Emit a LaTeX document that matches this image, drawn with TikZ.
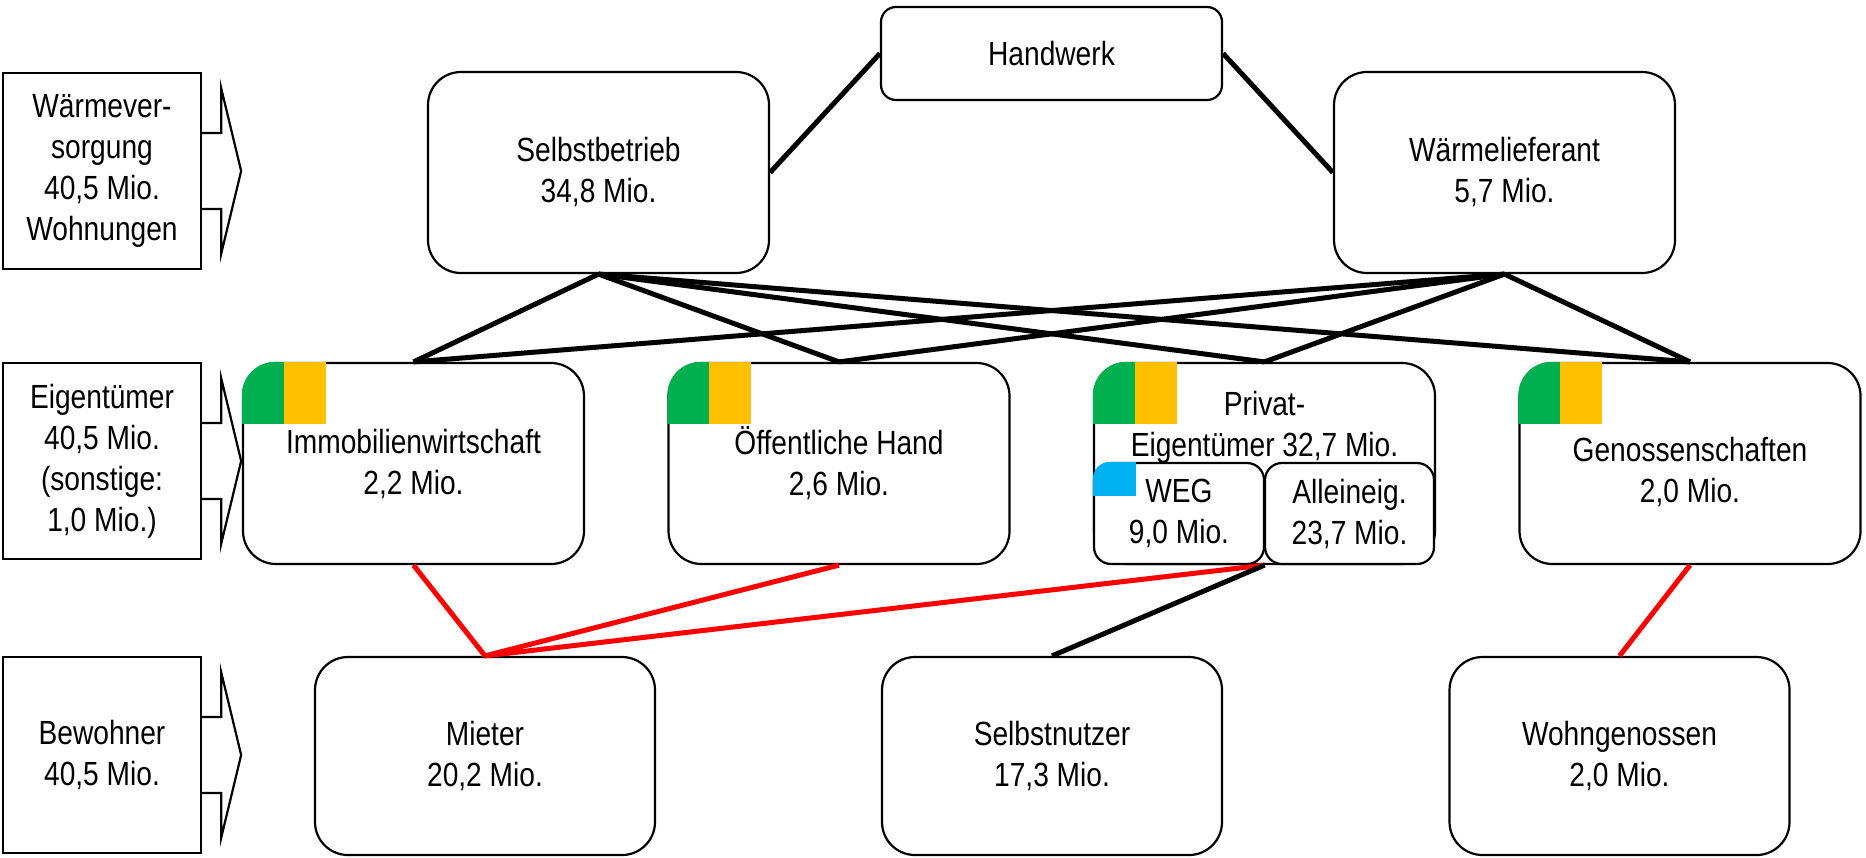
\documentclass[tikz,border=0pt]{standalone}
\usepackage{fontspec}
\setmainfont[FakeStretch=0.84]{Liberation Sans}
\usetikzlibrary{calc}
\definecolor{cgreen}{HTML}{00B050}
\definecolor{cyellow}{HTML}{FFC000}
\definecolor{cblue}{HTML}{00B0F0}
\definecolor{cred}{HTML}{FF0000}
\begin{document}
\begin{tikzpicture}[x=0.5pt,y=-0.5pt,
  every node/.style={font=\fontsize{16.75pt}{20.5pt}\selectfont},
  box/.style={draw, line width=1.1pt, rounded corners=16.5pt, fill=white, minimum width=170.5pt, minimum height=100.5pt, align=center, inner sep=0pt},
  hbox/.style={draw, line width=1.1pt, rounded corners=7.5pt, fill=white, minimum width=170.5pt, minimum height=46.5pt, align=center, inner sep=0pt},
  sbox/.style={draw, fill=white, line width=1.1pt, rounded corners=8.5pt, minimum height=50.5pt, align=center, inner sep=0pt},
  lbox/.style={draw, line width=1.15pt, minimum width=99pt, minimum height=98pt, align=center, inner sep=0pt},
  conn/.style={line width=2.5pt},
  rconn/.style={line width=2.5pt, draw=cred},
  blockarrow/.style={line width=1.1pt, line join=miter},
  txt/.style={align=center, inner sep=0pt}
]
\useasboundingbox (0,0) rectangle (1866,857);

% left category boxes
\node[lbox] (lb1) at (102,171) {Wärmever-\\sorgung\\40,5 Mio.\\Wohnungen};
\node[lbox] (lb2) at (102,461) {Eigentümer\\40,5 Mio.\\(sonstige:\\1,0 Mio.)};
\node[lbox] (lb3) at (102,755) {Bewohner\\40,5 Mio.};
\foreach \b in {lb1,lb2,lb3}{
  \draw[blockarrow] ($(\b.east)+(0,-38)$) -- ++(19,0) -- ++(0,-45) -- ($(\b.east)+(39,0)$)
     -- ($(\b.east)+(19,83)$) -- ++(0,-45) -- ($(\b.east)+(0,38)$);
}

% top row
\node[hbox] (hw) at (1051.5,53.5) {Handwerk};
\node[box] (sb) at (598.5,172.5) {Selbstbetrieb\\34,8 Mio.};
\node[box] (wl) at (1504.5,172.5) {Wärmelieferant\\5,7 Mio.};

% owners row
\node[box] (im) at (413.5,463.5) {Immobilienwirtschaft\\2,2 Mio.};
\node[box] (oh) at (839,463.5) {Öffentliche Hand\\2,6 Mio.};
\node[box] (pe) at (1264.5,463.5) {};
\node[box] (ge) at (1690,463.5) {\mbox{}\\Genossenschaften\\2,0 Mio.};
\node[txt] (pet) at (1264.5,427) {Privat-\\Eigentümer 32,7 Mio.};
\node[sbox, minimum width=85pt] (weg) at (1179,513.5) {WEG\\9,0 Mio.};
\node[sbox, minimum width=84.5pt] (all) at (1349.5,513.5) {Alleineig.\\23,7 Mio.};

% colour markers
\foreach \b in {im,oh,pe,ge}{
  \begin{scope}
    \clip[rounded corners=16.5pt] (\b.north west) rectangle (\b.south east);
    \fill[cgreen] (\b.north west) rectangle ++(42,62);
    \fill[cyellow] ($(\b.north west)+(42,0)$) rectangle ++(42,62);
  \end{scope}
}
\begin{scope}
  \clip[rounded corners=8.5pt] (weg.north west) rectangle (weg.south east);
  \fill[cblue] (weg.north west) rectangle ++(43,34);
\end{scope}

% residents row
\node[box, minimum width=170pt, minimum height=99pt] (mi) at (485,756) {Mieter\\20,2 Mio.};
\node[box, minimum width=170pt, minimum height=99pt] (sn) at (1052,756) {Selbstnutzer\\17,3 Mio.};
\node[box, minimum width=170pt, minimum height=99pt] (wg) at (1619.5,756) {Wohngenossen\\2,0 Mio.};

% connectors
\draw[conn] (sb.east) -- (hw.west);
\draw[conn] (hw.east) -- (wl.west);
\foreach \o in {im,oh,pe,ge}{
  \draw[conn] (sb.south) -- (\o.north);
  \draw[conn] (wl.south) -- (\o.north);
}
\draw[rconn] (im.south) -- (mi.north);
\draw[rconn] (oh.south) -- (mi.north);
\draw[rconn] (pe.south) -- (mi.north);
\draw[conn] (pe.south) -- (sn.north);
\draw[rconn] (ge.south) -- (wg.north);
\end{tikzpicture}
\end{document}
